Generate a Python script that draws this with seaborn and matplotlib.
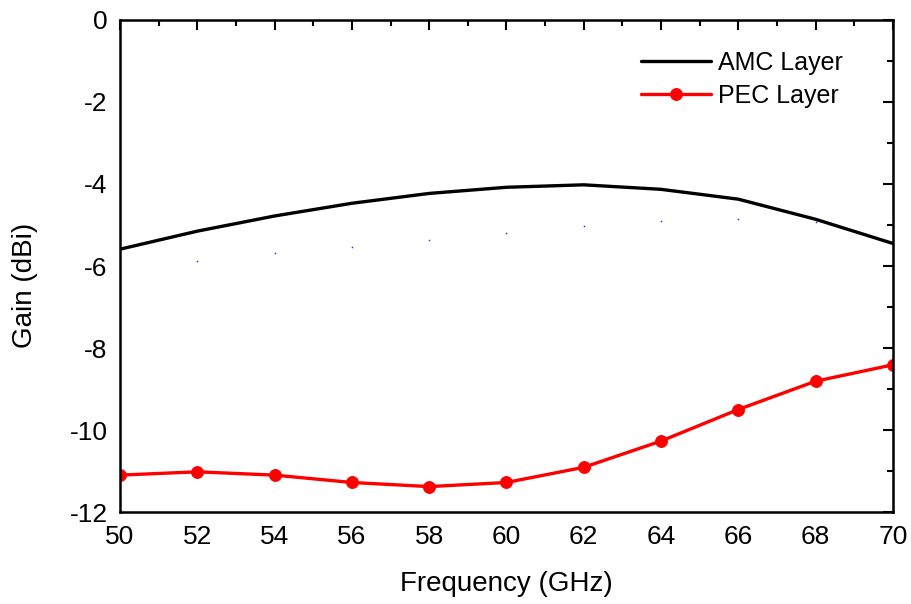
import matplotlib
matplotlib.use("Agg")
import matplotlib.pyplot as plt
from matplotlib.ticker import MultipleLocator
import seaborn as sns
import pandas as pd

freq = [50, 52, 54, 56, 58, 60, 62, 64, 66, 68, 70]
amc_gain = [-5.59, -5.15, -4.78, -4.47, -4.23, -4.08, -4.02, -4.13, -4.37, -4.86, -5.45]
pec_gain = [-11.10, -11.02, -11.10, -11.28, -11.38, -11.28, -10.91, -10.27, -9.50, -8.81, -8.41]
dot_freq = [52, 54, 56, 58, 60, 62, 64, 66, 68]
dot_gain = [-5.87, -5.69, -5.53, -5.37, -5.20, -5.03, -4.90, -4.85, -4.93]

sns.set_style("white")
plt.rcParams['font.family'] = ['Liberation Sans', 'DejaVu Sans']
plt.rcParams['axes.unicode_minus'] = False
for k in ['text.color', 'axes.labelcolor', 'xtick.color', 'ytick.color', 'axes.edgecolor']:
    plt.rcParams[k] = 'black'

fig = plt.figure(figsize=(9.12, 6.04), dpi=100)
ax = fig.add_axes([0.1316, 0.1523, 0.979 - 0.1316, 0.9669 - 0.1523])

df_amc = pd.DataFrame({"f": freq, "g": amc_gain})
df_pec = pd.DataFrame({"f": freq, "g": pec_gain})
df_dot = pd.DataFrame({"f": dot_freq, "g": dot_gain})

sns.lineplot(data=df_amc, x="f", y="g", ax=ax, color="black", lw=2.4, label="AMC Layer")
sns.lineplot(data=df_pec, x="f", y="g", ax=ax, color="#ff0000", lw=2.4, marker="o",
             markersize=8.5, markeredgecolor="#ff0000", label="PEC Layer")
sns.scatterplot(data=df_dot, x="f", y="g", ax=ax, color="#3030ff", s=1.5, linewidth=0, legend=False)

ax.set_xlim(50, 70)
ax.set_ylim(-12, 0)
ax.xaxis.set_major_locator(MultipleLocator(2))
ax.xaxis.set_minor_locator(MultipleLocator(1))
ax.yaxis.set_major_locator(MultipleLocator(2))
ax.yaxis.set_minor_locator(MultipleLocator(1))
ax.tick_params(which="both", direction="in", top=True, right=True, width=1.5, color="black")
ax.tick_params(which="major", length=7, labelsize=19)
ax.tick_params(axis="x", which="major", pad=9)
ax.tick_params(axis="y", which="major", pad=9)
ax.tick_params(which="minor", length=4)
for s in ax.spines.values():
    s.set_linewidth(1.8)
    s.set_color("black")

ax.set_xlabel("Frequency (GHz)", fontsize=20, labelpad=16)
ax.set_ylabel("Gain (dBi)", fontsize=20)
ax.yaxis.set_label_coords(-0.106, 0.46)

leg = ax.legend(loc="upper left", bbox_to_anchor=(0.674, 0.937), frameon=False, fontsize=18,
                handlelength=2.8, handletextpad=0.3, labelspacing=0.36, borderaxespad=0.0,
                borderpad=0.0)

fig.savefig("out.png", dpi=100)
